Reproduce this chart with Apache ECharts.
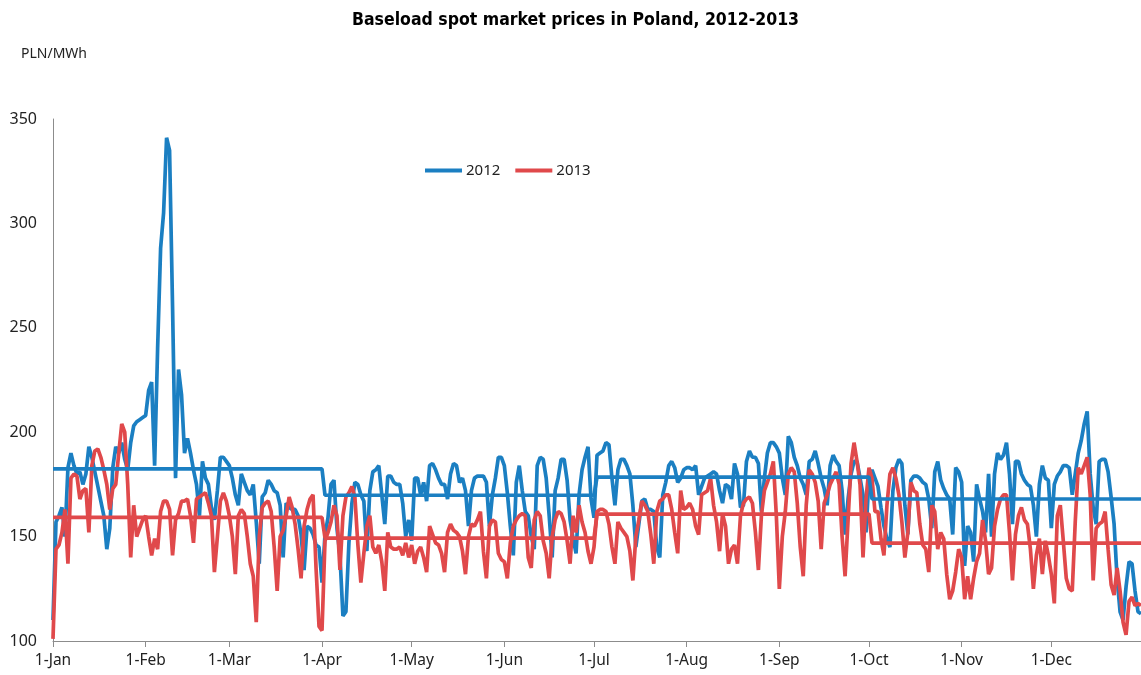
<!DOCTYPE html>
<html>
<head>
<meta charset="utf-8">
<script src="https://cdn.jsdelivr.net/npm/echarts@6/dist/echarts.min.js"></script>
<style>
  html, body { margin: 0; padding: 0; background: #fff; }
  #main { width: 1141px; height: 675px; }
</style>
</head>
<body>
<div id="main"></div>
<script>
// month ticks on the day axis
var monthNames = ['Jan','Feb','Mar','Apr','May','Jun','Jul','Aug','Sep','Oct','Nov','Dec'];
var monthStarts = [0,31,59,90,120,151,181,212,243,273,304,334];

// daily baseload prices, PLN/MWh
var prices2012 = [
  110,157,160,164,150,183,190,184,180,181,175,180,193,188,181,174,167,160,144,154,183,193,190,195,187,182,195,203,205,206,207,
  208,220,224,184,240,288,305,341,335,260,178,230,218,190,197,190,182,175,160,186,178,175,164,158,172,188,188,186,
  184,178,170,165,180,176,172,170,175,157,137,169,171,177,175,172,171,165,140,166,164,163,163,160,151,134,155,154,151,146,145,
  128,151,159,175,177,154,141,112,114,147,166,176,175,170,167,143,172,181,182,184,170,156,179,179,176,175,175,166,150,158,
  148,178,178,170,176,167,184,185,182,178,175,175,168,180,185,184,176,178,172,155,172,178,179,179,179,176,155,170,178,188,188,
  184,171,155,141,176,184,172,162,160,150,144,184,188,187,178,160,140,172,178,187,187,177,158,149,142,170,182,188,193,168,
  159,189,190,191,195,194,178,165,182,187,187,184,180,165,145,156,167,168,163,163,162,145,140,170,176,184,186,183,176,178,182,
  183,183,182,184,170,174,178,179,180,181,180,172,166,175,174,168,185,180,164,165,186,191,188,188,185,162,178,190,195,195,193,
  190,178,170,198,195,188,184,178,175,170,186,187,191,185,178,173,165,184,189,186,184,172,151,168,180,186,186,178,170,152,
  178,182,178,174,164,155,149,145,172,183,187,185,165,151,177,179,179,178,176,175,168,154,181,186,177,173,170,168,151,
  183,181,176,136,155,152,138,175,168,162,152,180,150,180,190,187,189,195,180,156,186,186,180,177,175,174,165,150,175,184,
  178,177,154,175,179,181,184,184,183,170,180,190,196,204,210,180,164,156,186,187,187,181,169,156,130,114,110,126,138,137,124,114,113
];
var prices2013 = [
  101,144,146,152,163,137,178,180,179,168,172,173,152,184,191,192,188,182,175,163,173,175,190,204,200,175,140,165,150,154,158,
  160,150,141,149,144,162,167,167,163,141,158,161,167,167,168,160,147,168,169,170,171,166,160,133,150,167,171,
  167,160,150,132,160,163,161,150,137,131,109,150,164,166,167,162,145,124,150,153,160,169,164,156,144,130,155,163,168,170,135,107,
  105,148,152,157,165,160,134,160,169,171,174,169,146,128,142,155,160,145,142,146,138,124,152,145,144,144,145,141,147,140,
  146,137,143,145,140,133,155,151,147,146,142,133,152,156,153,152,150,143,132,150,156,155,158,162,143,130,155,158,157,142,139,
  138,130,147,155,158,160,161,160,140,135,158,162,160,148,142,130,150,158,162,161,157,148,137,160,152,165,157,152,143,137,
  145,162,163,163,162,156,145,137,157,154,152,150,143,129,150,158,167,165,162,151,137,162,167,168,170,170,163,152,142,172,163,
  164,166,163,155,151,170,171,172,178,165,157,143,161,155,137,144,146,137,160,166,168,169,166,152,134,160,172,176,180,186,160,
  125,150,162,180,183,181,166,145,131,165,182,180,176,167,144,166,170,175,178,181,175,150,131,158,185,195,186,175,140,168,
  183,178,162,162,149,141,165,180,183,178,170,157,140,152,176,172,171,156,146,144,133,165,162,144,152,149,132,120,124,133,144,
  140,120,131,120,130,138,142,158,148,132,135,155,163,168,170,170,152,129,151,160,164,158,156,144,125,141,149,132,148,141,
  132,118,160,165,148,130,125,124,157,183,180,184,188,170,129,154,156,157,162,144,127,122,135,124,109,103,119,121,117,118,117
];

// quarterly averages and the day each quarter starts on
var quarterStarts = [0, 91, 182, 274];
var avg2012 = [182.4, 169.8, 178.5, 168.0];
var avg2013 = [159.2, 149.3, 160.8, 146.9];

var days = [];
for (var i = 0; i < 365; i++) {
    var m = 0;
    for (var k = 0; k < monthStarts.length; k++) {
        if (i >= monthStarts[k]) m = k;
    }
    days.push((i - monthStarts[m] + 1) + '-' + monthNames[m]);
}

function quarterLine(avgs) {
    return days.map(function (d, i) {
        var q = 0;
        for (var k = 0; k < quarterStarts.length; k++) {
            if (i >= quarterStarts[k]) q = k;
        }
        return avgs[q];
    });
}

function isMonthStart(index) {
    return monthStarts.indexOf(index) >= 0;
}

var blue = '#1b7fc2';
var red = '#e0494b';
var font = 'Noto Sans';

var myChart = echarts.init(document.getElementById('main'));

var option = {
    animation: false,
    title: [{
        text: 'Baseload spot market prices in Poland, 2012-2013',
        left: 347,
        top: 6,
        textStyle: {
            fontFamily: 'DejaVu Sans Condensed',
            fontWeight: 'bold',
            fontSize: 17.5,
            color: '#000'
        }
    }, {
        text: 'PLN/MWh',
        left: 16,
        top: 42,
        textStyle: {
            fontFamily: font,
            fontWeight: 'normal',
            fontSize: 14,
            color: '#222'
        }
    }],
    legend: {
        data: ['2012', '2013'],
        left: 420,
        top: 158,
        icon: 'rect',
        itemWidth: 37,
        itemHeight: 4,
        itemGap: 15,
        textStyle: {
            fontFamily: font,
            fontSize: 15,
            color: '#222',
            padding: [0, 0, 0, -1]
        }
    },
    grid: {
        left: 53,
        top: 119,
        width: 1092,
        bottom: 34
    },
    xAxis: {
        type: 'category',
        data: days,
        boundaryGap: false,
        axisLine: { lineStyle: { color: '#8c8c8c', width: 1 } },
        axisTick: {
            interval: isMonthStart,
            length: 6,
            lineStyle: { color: '#8c8c8c' }
        },
        axisLabel: {
            interval: isMonthStart,
            margin: 12,
            fontFamily: font,
            fontSize: 15.5,
            color: '#222'
        },
        splitLine: { show: false }
    },
    yAxis: {
        type: 'value',
        min: 100,
        max: 350,
        interval: 50,
        axisLine: { show: true, lineStyle: { color: '#8c8c8c', width: 1 } },
        axisTick: { show: false },
        axisLabel: {
            margin: 16,
            fontFamily: font,
            fontSize: 16,
            color: '#222'
        },
        splitLine: { show: false }
    },
    series: [{
        name: '2012',
        type: 'line',
        data: prices2012,
        symbol: 'none',
        lineStyle: { color: blue, width: 3.7 },
        itemStyle: { color: blue }
    }, {
        name: '2013',
        type: 'line',
        data: prices2013,
        symbol: 'none',
        lineStyle: { color: red, width: 3.7 },
        itemStyle: { color: red }
    }, {
        name: '2012 avg',
        type: 'line',
        data: quarterLine(avg2012),
        symbol: 'none',
        lineStyle: { color: blue, width: 3.7 },
        itemStyle: { color: blue }
    }, {
        name: '2013 avg',
        type: 'line',
        data: quarterLine(avg2013),
        symbol: 'none',
        lineStyle: { color: red, width: 3.7 },
        itemStyle: { color: red }
    }]
};
myChart.setOption(option);
</script>
</body>
</html>
